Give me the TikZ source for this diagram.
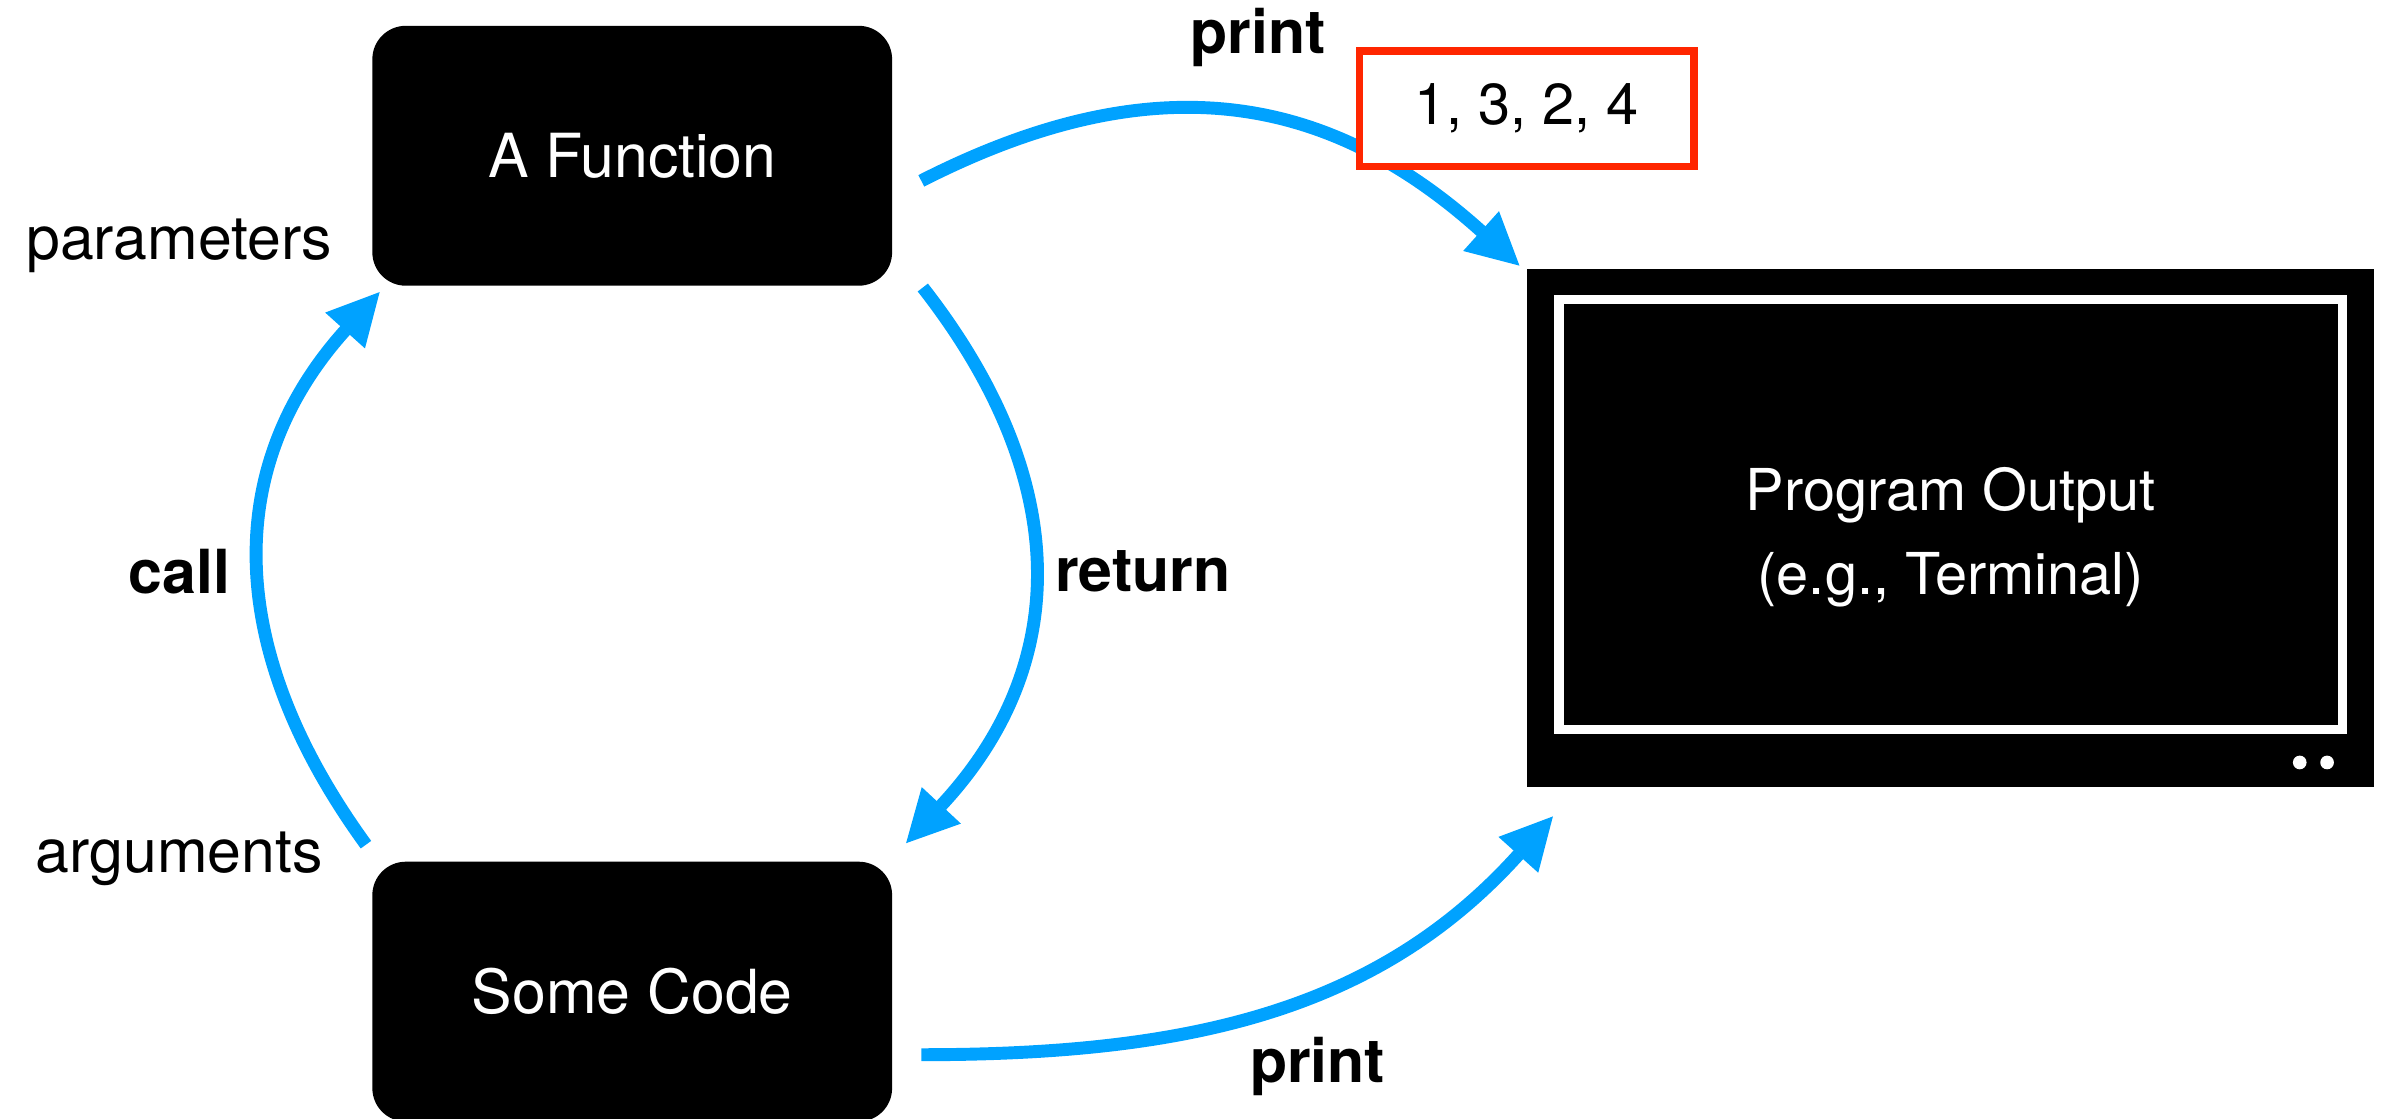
\documentclass[tikz,border=0pt]{standalone}
\usepackage{fontspec}
\setmainfont{TeX Gyre Heros}
\usetikzlibrary{arrows.meta}
\definecolor{flowblue}{RGB}{0,162,255}
\definecolor{outred}{RGB}{255,38,0}

\begin{document}
\begin{tikzpicture}[
      x=1pt,
      y=1pt,
      codebox/.style={
        fill=black,
        text=white,
        rounded corners=22pt,
        minimum width=342pt,
        minimum height=171pt,
        font=\fontsize{40}{48}\selectfont
      },
      terminal/.style={fill=black, minimum width=557pt, minimum height=341pt},
      screen/.style={draw=white, line width=6pt},
      termtext/.style={
        text=white,
        align=center,
        font=\fontsize{38}{55}\selectfont
      },
      output/.style={
        draw=outred,
        line width=5pt,
        fill=white,
        minimum width=220pt,
        minimum height=76pt,
        font=\fontsize{38}{46}\selectfont
      },
      flow/.style={
        -{Triangle[length=34pt,width=35pt,line width=1pt]},
        draw=flowblue,
        line width=8.5pt
      },
      lbl/.style={font=\fontsize{40}{48}\selectfont},
      boldlbl/.style={font=\fontsize{40}{48}\selectfont\bfseries}
    ]
    \useasboundingbox (0,0) rectangle (1568,736);

    \node[codebox] (fun) at (416,633.5) {A Function};
    \node[codebox] (code) at (416,83.5) {Some Code};

    \node[terminal] (term) at (1283.5,388.5) {};
    \draw[screen] ([xshift=21pt,yshift=-20pt]term.north west)
      rectangle ([xshift=-21pt,yshift=38pt]term.south east);
    \fill[white] ([xshift=-49pt,yshift=16.5pt]term.south east) circle (4.5pt);
    \fill[white] ([xshift=-31pt,yshift=16.5pt]term.south east) circle (4.5pt);
    \node[termtext] (termlabel) at ([yshift=-6pt]term.center)
      {Program Output\\(e.g., Terminal)};

    \draw[flow] ([xshift=19pt,yshift=-16.5pt]fun.east)
      to[out=27,in=138,looseness=1.1]
      ([xshift=-5pt,yshift=2pt]term.north west);
    \draw[flow] ([xshift=20pt,yshift=-1pt]fun.south east)
      to[out=-52,in=47,looseness=1.12]
      ([xshift=9pt,yshift=12pt]code.north east);
    \draw[flow] ([xshift=-4pt,yshift=11pt]code.north west)
      to[out=126,in=228,looseness=1.1]
      ([xshift=5pt,yshift=-4pt]fun.south west);
    \draw[flow] ([xshift=19pt,yshift=-41.5pt]code.east)
      to[out=0,in=228]
      ([xshift=17pt,yshift=-19pt]term.south west);

    \node[output] (out) at (1004.5,664.5) {1, 3, 2, 4};

    \node[boldlbl] (printtop) at (828,711) {print};
    \node[boldlbl] (printbottom) at (867,34) {print};
    \node[boldlbl] (return) at (752,360) {return};
    \node[boldlbl] (call) at (118,360) {call};
    \node[lbl] (params) at (118,574) {parameters};
    \node[lbl] (args) at (118,171) {arguments};
  \end{tikzpicture}
\end{document}
